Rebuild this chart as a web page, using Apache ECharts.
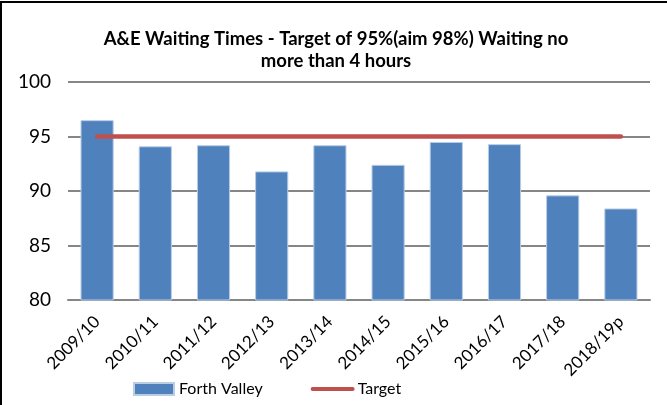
<!DOCTYPE html>
<html>
<head>
<meta charset="utf-8">
<script src="https://cdn.jsdelivr.net/npm/echarts@6/dist/echarts.min.js"></script>
<style>
  html, body { margin: 0; padding: 0; background: #fff; }
  /* the reference is a cropped screenshot: only top and left frame lines show */
  #chart {
    width: 665px; height: 402px;
    border-top: 2px solid #000;
    border-left: 2px solid #000;
    margin-top: 1px;
  }
</style>
</head>
<body>
<div id="chart"></div>
<script>
// data
const years = ['2009/10', '2010/11', '2011/12', '2012/13', '2013/14',
               '2014/15', '2015/16', '2016/17', '2017/18', '2018/19p'];
const forthValley = [96.5, 94.1, 94.2, 91.8, 94.2, 92.4, 94.5, 94.3, 89.6, 88.4];
const target = [95, 95, 95, 95, 95, 95, 95, 95, 95, 95];
const yTicks = [80, 85, 90, 95, 100];

const font = 'Lato, "Liberation Sans", sans-serif';
const chart = echarts.init(document.getElementById('chart'));

chart.setOption({
  animation: false,
  textStyle: { fontFamily: font },
  title: {
    text: 'A&E Waiting Times - Target of 95%(aim 98%) Waiting no\nmore than 4 hours',
    left: 329,
    textAlign: 'center',
    top: 20,
    textStyle: { fontSize: 18.5, fontWeight: 'bold', color: '#000', lineHeight: 22, fontFamily: font }
  },
  legend: {
    bottom: 3,
    left: 126,
    itemGap: 48,
    itemWidth: 40,
    itemHeight: 12,
    textStyle: { fontSize: 16, color: '#000', fontFamily: font },
    data: [
      { name: 'Forth Valley', icon: 'rect' },
      { name: 'Target', itemStyle: { opacity: 0 }, lineStyle: { width: 4, color: '#c0504d' } }
    ]
  },
  grid: { left: 66, right: 17, top: 79, bottom: 105 },
  xAxis: {
    type: 'category',
    data: years,
    axisLine: { lineStyle: { color: '#868686', width: 2 } },
    axisTick: { show: false },
    axisLabel: { rotate: 45, fontSize: 17, color: '#000', margin: 19, interval: 0, fontFamily: font }
  },
  yAxis: {
    type: 'value',
    min: yTicks[0],
    max: yTicks[yTicks.length - 1],
    interval: 5,
    axisLine: { show: false },
    axisTick: { show: false },
    axisLabel: { fontSize: 19, color: '#000', margin: 17, fontFamily: font },
    splitLine: { lineStyle: { color: '#868686', width: 2 } }
  },
  series: [
    {
      name: 'Forth Valley',
      type: 'bar',
      data: forthValley,
      barWidth: '57%',
      itemStyle: { color: '#4f81bd', borderColor: '#b9cde5', borderWidth: 1 }
    },
    {
      name: 'Target',
      type: 'line',
      data: target,
      symbol: 'none',
      lineStyle: { color: '#c0504d', width: 4.5, cap: 'round' },
      itemStyle: { color: '#c0504d' }
    }
  ]
});
</script>
</body>
</html>
